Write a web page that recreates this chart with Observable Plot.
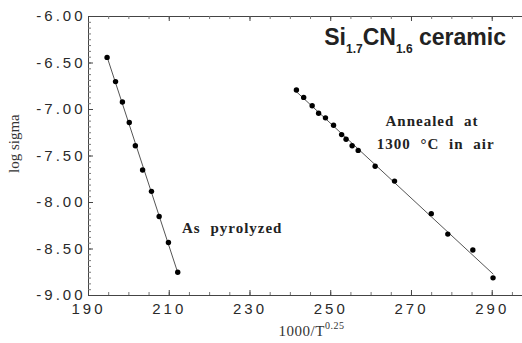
<!DOCTYPE html>
<html><head><meta charset="utf-8">
<script src="https://cdn.jsdelivr.net/npm/d3@7"></script>
<script src="https://cdn.jsdelivr.net/npm/@observablehq/plot@0.6"></script>
<style>
body{margin:0;background:#fff}
svg{display:block}
g[aria-label$="tick label"]{font:15px "Liberation Sans",Arial,sans-serif;letter-spacing:3px;fill:#2a2a2a}
</style>
</head><body><div id="chart"></div>
<script>
// As pyrolyzed
const pyroX = [194.6,196.7,198.4,200.1,201.6,203.4,205.6,207.5,209.8,212.1];
const pyroY = [-6.44,-6.70,-6.92,-7.14,-7.39,-7.65,-7.88,-8.15,-8.43,-8.75];
// Annealed at 1300 °C in air
const annX = [241.5,243.3,245.4,247.0,248.7,250.7,252.7,253.8,255.3,256.8,261.0,265.8,274.9,279.0,285.2,290.2];
const annY = [-6.79,-6.87,-6.96,-7.04,-7.09,-7.17,-7.27,-7.32,-7.39,-7.44,-7.61,-7.77,-8.12,-8.34,-8.51,-8.81];
const xTicks = [190,210,230,250,270,290];
const yTicks = [-9,-8.5,-8,-7.5,-7,-6.5,-6];
const xMinor = d3.range(190, 297.5, 5);
const yMinor = d3.range(-9, -5.999, 0.0625);

const pyro = pyroX.map((x,i)=>({x, y: pyroY[i]}));
const ann = annX.map((x,i)=>({x, y: annY[i]}));

const W = 522, H = 343, mL = 88, mR = 0, mT = 16, mB = 48;
const pw = W - mL - mR, ph = H - mT - mB;
const ink = "#444";
const serif = "Liberation Serif, Times New Roman, serif";

const plot = Plot.plot({
  width: W, height: H,
  marginLeft: mL, marginRight: mR, marginTop: mT, marginBottom: mB,
  x: {domain: [190, 297.5]},
  y: {domain: [-9, -6]},
  marks: [
    Plot.axisX({ticks: xTicks, tickSize: 0, tickPadding: 8, label: null, tickFormat: d => String(d)}),
    Plot.axisY({ticks: yTicks, tickSize: 0, tickPadding: 3, label: null, tickFormat: d => d.toFixed(2)}),
    Plot.ruleX([190], {stroke: ink}),
    Plot.ruleY([-9], {stroke: ink}),
    Plot.ruleY([-6], {stroke: ink}),
    // inward ticks
    Plot.tickY(yMinor, {y: d => d, insetRight: pw - 3, stroke: "#777"}),
    Plot.tickY(yTicks, {y: d => d, insetRight: pw - 5, stroke: ink}),
    Plot.tickX(xMinor, {x: d => d, insetTop: ph - 3, stroke: "#777"}),
    Plot.tickX(xMinor, {x: d => d, insetBottom: ph - 3, stroke: "#777"}),
    Plot.tickX(xTicks, {x: d => d, insetTop: ph - 5, stroke: ink}),
    Plot.tickX(xTicks, {x: d => d, insetBottom: ph - 5, stroke: ink}),
    // fit lines
    Plot.linearRegressionY(pyro, {x: "x", y: "y", stroke: "#555", strokeWidth: 1, ci: 0}),
    Plot.linearRegressionY(ann, {x: "x", y: "y", stroke: "#555", strokeWidth: 1, ci: 0}),
    Plot.dot(pyro, {x: "x", y: "y", r: 2.7, fill: "#000", stroke: "none"}),
    Plot.dot(ann, {x: "x", y: "y", r: 2.7, fill: "#000", stroke: "none"}),
    // annotations
    Plot.text(["SiCN ceramic"], {x: 248.4, y: -6.31, text: d => d, textAnchor: "start", lineAnchor: "bottom", fontSize: 23, fontWeight: "bold", fontFamily: "Liberation Sans, Arial, sans-serif", fill: "#222"}),
    Plot.text(["Annealed at"], {x: 275.1, y: -7.18, text: d => d, textAnchor: "middle", lineAnchor: "bottom", fontSize: 15, fontWeight: "bold", fontFamily: serif, fill: "#222"}),
    Plot.text(["1300 °C in air"], {x: 276, y: -7.42, text: d => d, textAnchor: "middle", lineAnchor: "bottom", fontSize: 15, fontWeight: "bold", fontFamily: serif, fill: "#222"}),
    Plot.text(["As pyrolyzed"], {x: 225.6, y: -8.33, text: d => d, textAnchor: "middle", lineAnchor: "bottom", fontSize: 15, fontWeight: "bold", fontFamily: serif, fill: "#222"}),
    // axis labels
    Plot.text(["log sigma"], {frameAnchor: "left", text: d => d, rotate: -90, dx: -74, dy: 17, fontSize: 15, fontFamily: serif, fill: "#333"}),
    Plot.text(["1000/T"], {frameAnchor: "bottom", text: d => d, dx: 6, dy: 40, fontSize: 15, fontFamily: serif, fill: "#333"})
  ]
});

const svg = d3.select(plot);
svg.selectAll("text").each(function() {
  const t = this.textContent;
  const el = d3.select(this);
  if (t === "SiCN ceramic") {
    el.text(null);
    el.append("tspan").text("Si");
    el.append("tspan").attr("font-size", 12).attr("dy", 8).text("1.7");
    el.append("tspan").attr("dy", -8).text("CN");
    el.append("tspan").attr("font-size", 12).attr("dy", 8).text("1.6");
    el.append("tspan").attr("dy", -8).text(" ceramic");
  } else if (t === "1000/T") {
    el.text(null);
    el.attr("letter-spacing", 0.5);
    el.append("tspan").text("1000/T");
    el.append("tspan").attr("font-size", 10).attr("dy", -7).text("0.25");
  } else if (t === "Annealed at" || t === "1300 °C in air" || t === "As pyrolyzed") {
    el.attr("letter-spacing", 1).attr("word-spacing", 5);
  }
});
document.getElementById("chart").appendChild(plot);
</script>
</body></html>
